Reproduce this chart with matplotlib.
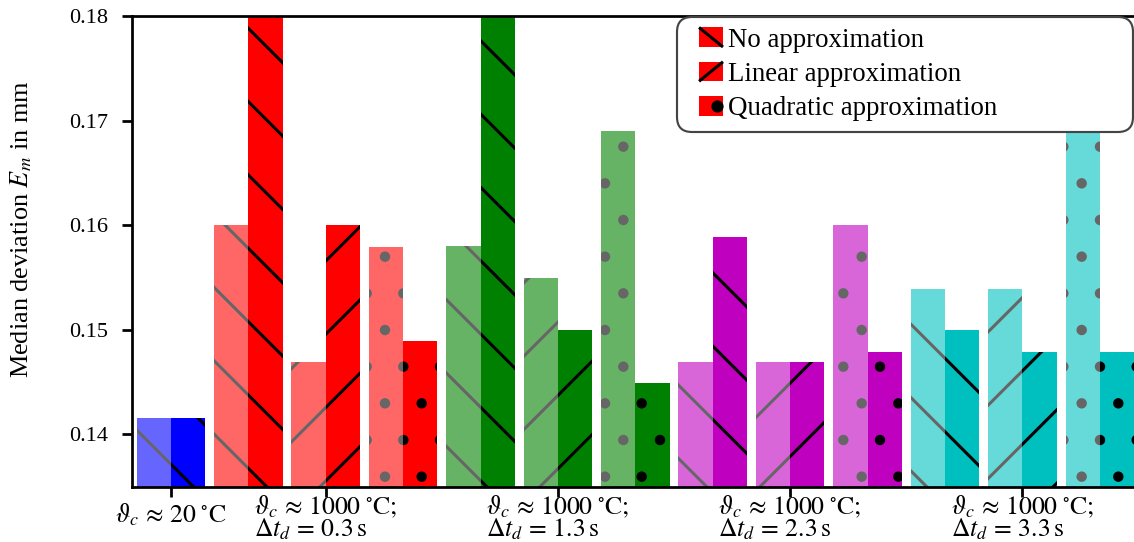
import matplotlib
matplotlib.use('Agg')
import matplotlib.pyplot as plt
from matplotlib.patches import Rectangle
from matplotlib.lines import Line2D
from matplotlib.legend_handler import HandlerBase

# ---------------- data ----------------
group_labels = [
    r'$\vartheta_c\,\approx\,20\;^{\circ}\mathrm{C}$',
    '$\\vartheta_c\\,\\approx\\,1000\\;^{\\circ}\\mathrm{C};$\n$\\Delta t_d\\,=\\,0.3\\,\\mathrm{s}$',
    '$\\vartheta_c\\,\\approx\\,1000\\;^{\\circ}\\mathrm{C};$\n$\\Delta t_d\\,=\\,1.3\\,\\mathrm{s}$',
    '$\\vartheta_c\\,\\approx\\,1000\\;^{\\circ}\\mathrm{C};$\n$\\Delta t_d\\,=\\,2.3\\,\\mathrm{s}$',
    '$\\vartheta_c\\,\\approx\\,1000\\;^{\\circ}\\mathrm{C};$\n$\\Delta t_d\\,=\\,3.3\\,\\mathrm{s}$',
]
methods = ['No approximation', 'Linear approximation', 'Quadratic approximation']

# reference case (20 °C): one pair
reference_light = [0.1416]
reference_dark = [0.1416]

# heated cases (0.3 s, 1.3 s, 2.3 s, 3.3 s)
no_approx_light = [0.1600, 0.1580, 0.1469, 0.1539]
no_approx_dark = [0.1850, 0.1850, 0.1589, 0.1500]
linear_light = [0.1469, 0.1550, 0.1469, 0.1539]
linear_dark = [0.1600, 0.1500, 0.1469, 0.1479]
quadratic_light = [0.1579, 0.1690, 0.1600, 0.1720]
quadratic_dark = [0.1489, 0.1449, 0.1479, 0.1479]

y_ticks = [0.14, 0.15, 0.16, 0.17, 0.18]

# ---------------- styles ----------------
dark_colors = ['#0000ff', '#ff0000', '#008000', '#bf00bf', '#00bfbf']
light_colors = ['#6666ff', '#ff6666', '#66b366', '#d966d9', '#66d9d9']
method_hatches = ['\\', '/', '.']

DPI = 220
W, H = 1134, 542
plt.rcParams['font.family'] = ['Liberation Serif', 'DejaVu Serif']
plt.rcParams['mathtext.fontset'] = 'stix'
plt.rcParams['hatch.linewidth'] = 1.0

fig = plt.figure(figsize=(W / DPI, H / DPI), dpi=DPI)
ax = fig.add_axes([131.7 / W, 1 - 486.7 / H, 1 - 131.7 / W, (486.7 - 16) / H])

w = 0.442


def draw_pair(pos, lv, dv, light, dark, hatch):
    ax.bar(pos - w / 2, lv, w, color=light, edgecolor='#666666',
           linewidth=0, hatch=hatch)
    bc = ax.bar(pos + w / 2, dv, w, color=dark, edgecolor='black',
                linewidth=0, hatch=hatch)
    return bc


draw_pair(0, reference_light[0], reference_dark[0],
          light_colors[0], dark_colors[0], method_hatches[0])

series_light = [no_approx_light, linear_light, quadratic_light]
series_dark = [no_approx_dark, linear_dark, quadratic_dark]
tick_pos = [0]
legend_handles = []
for g in range(4):
    for m in range(3):
        pos = 1 + 3 * g + m
        bc = draw_pair(pos, series_light[m][g], series_dark[m][g],
                       light_colors[g + 1], dark_colors[g + 1], method_hatches[m])
        if g == 0:
            legend_handles.append(bc.patches[0])
    tick_pos.append(1 + 3 * g + 1)

ax.set_xlim(-0.5065, 12.443)
ax.set_ylim(0.135, 0.18)
ax.set_yticks(y_ticks)
ax.set_xticks(tick_pos)
ax.set_xticklabels(group_labels)
for lbl in ax.get_xticklabels():
    lbl.set_multialignment('left')
    lbl.set_linespacing(0.8)

for s in ['left', 'bottom', 'top']:
    ax.spines[s].set_linewidth(0.9)
ax.spines['right'].set_visible(False)
ax.tick_params(axis='both', direction='out', length=3.3, width=0.9)
ax.tick_params(axis='y', labelsize=7.3, pad=4.5)
ax.tick_params(axis='x', labelsize=8.4, pad=-1)
ax.xaxis.get_major_ticks()[0].set_pad(1.6)

ax.set_ylabel(r'Median deviation $E_m$ in mm', fontsize=8.6)
ax.yaxis.set_label_coords(-0.0975, 0.546)


class HatchSampleHandler(HandlerBase):
    def __init__(self, kind):
        super().__init__()
        self.kind = kind

    def create_artists(self, legend, orig_handle, xdescent, ydescent,
                       width, height, fontsize, trans):
        hw = 0.89 * fontsize
        x0 = -xdescent + width - hw
        y0 = -ydescent
        rect = Rectangle((x0, y0), hw, height, facecolor=orig_handle.get_facecolor(),
                         edgecolor='none', transform=trans)
        if self.kind == '\\':
            mark = Line2D([x0, x0 + hw], [y0 + height, y0], color='black', lw=1.0,
                          solid_capstyle='butt', transform=trans)
        elif self.kind == '/':
            mark = Line2D([x0, x0 + hw], [y0, y0 + height], color='black', lw=1.0,
                          solid_capstyle='butt', transform=trans)
        else:
            mark = Line2D([x0 + 0.75 * hw], [y0 + 0.5 * height], marker='o', ms=3.0,
                          color='black', ls='none', transform=trans)
        return [rect, mark]


top = 1 - 17 / H
leg = ax.legend(legend_handles, methods, loc='upper left',
                bbox_to_anchor=(677 / W, top - 0.3, (1133 - 677) / W, 0.3),
                bbox_transform=fig.transFigure, mode='expand', borderaxespad=0,
                fontsize=8.8, framealpha=1, fancybox=True,
                handlelength=1.32, handleheight=0.74, handletextpad=0.19,
                borderpad=0.39, labelspacing=0.34,
                handler_map={h: HatchSampleHandler(k)
                             for h, k in zip(legend_handles, method_hatches)})
frame = leg.get_frame()
frame.set_edgecolor('#444444')
frame.set_linewidth(0.7)
frame.set_boxstyle('round', pad=0, rounding_size=0.55)

fig.savefig('out.png', dpi=DPI)
